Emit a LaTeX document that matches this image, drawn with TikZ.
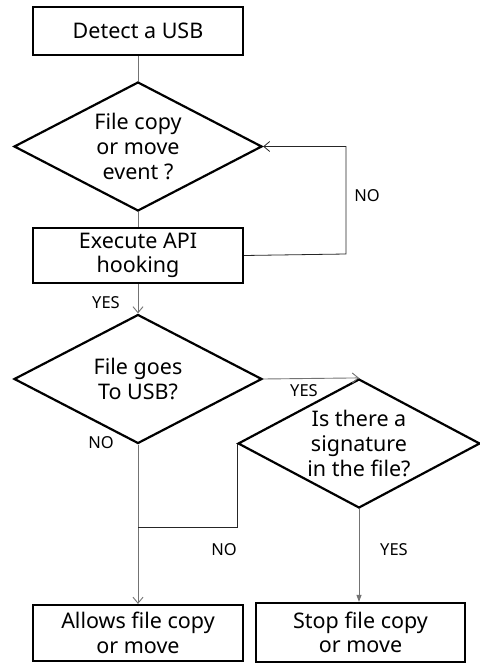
\documentclass[tikz,border=0pt]{standalone}
\usepackage{fontspec}
\setmainfont{Noto Sans}
\usetikzlibrary{shapes.geometric,arrows.meta}
\begin{document}
\begin{tikzpicture}[x=1pt,y=-1pt,
  box/.style={draw=black,line width=2.2pt,rectangle,minimum width=210pt,inner sep=0pt,align=center,font=\fontsize{21.5}{24.5}\selectfont},
  dia/.style={draw=black,line width=2.2pt,diamond,inner sep=0pt,minimum width=248pt,minimum height=129pt},
  dtext/.style={align=center,font=\fontsize{21.5}{25}\selectfont,inner sep=0pt},
  lbl/.style={font=\fontsize{16.5}{19}\selectfont,inner sep=0pt},
  conn/.style={draw=black!55,line width=0.9pt},
  loop/.style={draw=black!85,line width=0.8pt},
  open/.style={-{Straight Barb[length=6pt,width=10pt]}},
  fill/.style={-{Triangle[length=7pt,width=5pt]}}
]
\useasboundingbox (0,0) rectangle (479,663);
\fill[white] (0,0) rectangle (479,663);

\node[box,minimum height=48pt] (b1) at (138,31) {Detect a USB};
\node[dia] (d1) at (138,146.5) {};
\node[dtext] (t1) at (d1.center) {File copy\\or move\\event ?};
\node[box,minimum height=55pt] (b2) at (138,255.5) {Execute API\\hooking};
\node[dia] (d2) at (138,379) {};
\node[dtext] (t2) at (d2.center) {File goes\\To USB?};
\node[dia,minimum width=242pt] (d3) at (359,443.5) {};
\node[dtext] (t3) at (d3.center) {Is there a\\signature\\in the file?};
\node[box,minimum height=56pt] (allow) at (138,633) {Allows file copy\\or move};
\node[box,minimum width=209pt,minimum height=59pt] (stop) at (360.5,632.5) {Stop file copy\\or move};

\coordinate (n1) at (346,254);
\coordinate (j1) at (138,527);

\draw[conn] (b1.south) -- (d1.north);
\draw[conn] (d1.south) -- (b2.north);
\draw[loop,open] (b2.east) -- (n1) |- (d1.east);
\draw[conn,open] (b2.south) -- (d2.north);
\draw[conn,open] (d2.east) -- (d3.north);
\draw[conn,open] (d2.south) -- (allow.north);
\draw[loop] (d3.west) |- (j1);
\draw[conn,fill] (d3.south) -- (d3.south |- stop.north);

\node[lbl] (l1) at (367,196) {NO};
\node[lbl] (l2) at (106,303) {YES};
\node[lbl] (l3) at (304,391) {YES};
\node[lbl] (l4) at (101,443) {NO};
\node[lbl] (l5) at (224,550) {NO};
\node[lbl] (l6) at (394,550) {YES};
\end{tikzpicture}
\end{document}
